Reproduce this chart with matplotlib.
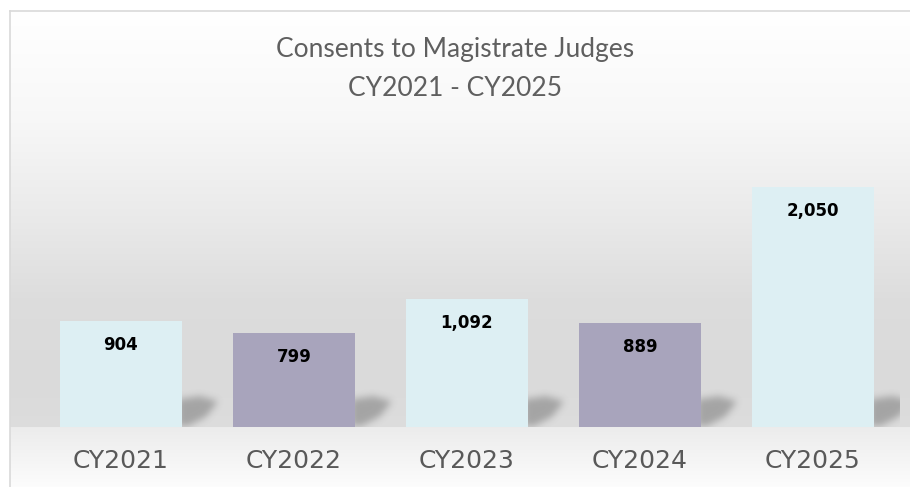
import numpy as np
import matplotlib

matplotlib.use("Agg")
import matplotlib.pyplot as plt
from matplotlib.path import Path

years = ["CY2021", "CY2022", "CY2023", "CY2024", "CY2025"]
consents = [904, 799, 1092, 889, 2050]
labels = ["904", "799", "1,092", "889", "2,050"]
colors = ["#ddeff3", "#a8a4bc", "#ddeff3", "#a8a4bc", "#ddeff3"]

W, H = 910, 487
fig = plt.figure(figsize=(W / 100, H / 100), dpi=100)

# background: white outside frame, gray gradient wall, light floor
bg = fig.add_axes([0, 0, 1, 1])
bg.set_xlim(0, W); bg.set_ylim(H, 0); bg.axis("off")
ys = np.arange(H)
shade = np.interp(ys, [0, 11, 120, 220, 300, 380, 426, 427, 487],
                  [1.0, 1.0, 0.97, 0.915, 0.865, 0.855, 0.865, 0.925, 0.99])
shade[:11] = 1.0
img = np.repeat(shade[:, None], W, axis=1)
img[:, :10] = 1.0
bg.imshow(np.dstack([img] * 3), extent=(0, W, H, 0), aspect="auto", interpolation="bilinear")
bg.plot([10, 10], [11, H], color="#d9d9d9", lw=1.2)
bg.plot([10, W], [11, 11], color="#d9d9d9", lw=1.2)

bg.text(455, 50, "Consents to Magistrate Judges", ha="center", va="center",
        fontsize=19, color="#5f5f5f", family="Lato")
bg.text(455, 88, "CY2021 - CY2025", ha="center", va="center",
        fontsize=19, color="#5f5f5f", family="Lato")

# main axes
left_px, right_px, base_px, top_px = 34.5, 899.5, 427, 10
ax = fig.add_axes([left_px / W, 1 - base_px / H, (right_px - left_px) / W, (base_px - top_px) / H])
ax.patch.set_alpha(0)
ymax = 3560
ax.set_xlim(-0.5, len(years) - 0.5)
ax.set_ylim(0, ymax)
for s in ax.spines.values():
    s.set_visible(False)

xs = np.arange(len(years))
bw = 0.71
dx = len(years) / (right_px - left_px)   # data units per px
dy = ymax / (base_px - top_px)

# blurred drop shadow sprite (pixels, y up from baseline)
sw, sh = 60, 44
gx, gy = np.meshgrid(np.arange(sw) + 0.5, np.arange(sh) + 0.5)
core = Path([(-4, 1), (-4, 27), (18, 30), (36, 25), (24, 10), (6, 1)])
mask = core.contains_points(np.c_[gx.ravel() - 8, gy.ravel() - 4]).reshape(sh, sw).astype(float)
k = np.ones(7) / 7
for _ in range(3):
    mask = np.apply_along_axis(lambda r: np.convolve(r, k, mode="same"), 1, mask)
    mask = np.apply_along_axis(lambda c: np.convolve(c, k, mode="same"), 0, mask)
sprite = np.zeros((sh, sw, 4))
sprite[..., :3] = 0.35
sprite[..., 3] = mask * 0.42

for x in xs:
    rx = x + bw / 2
    ax.imshow(sprite, origin="lower", aspect="auto", interpolation="bilinear", zorder=1,
              extent=(rx - 8 * dx, rx + (sw - 8) * dx, -4 * dy, (sh - 4) * dy))

ax.set_xlim(-0.5, len(years) - 0.5)
ax.set_ylim(0, ymax)
ax.bar(xs, consents, width=bw, color=colors, edgecolor="none", zorder=2)
for x, v, t in zip(xs, consents, labels):
    ax.text(x, v - 24 * dy, t, ha="center", va="center", fontsize=12,
            fontweight="bold", color="black", zorder=3)

ax.set_xticks(xs)
ax.set_xticklabels(years, fontsize=18, color="#595959")
ax.tick_params(axis="x", length=0, pad=16)
ax.set_yticks([])

fig.savefig("out.png", dpi=100)
